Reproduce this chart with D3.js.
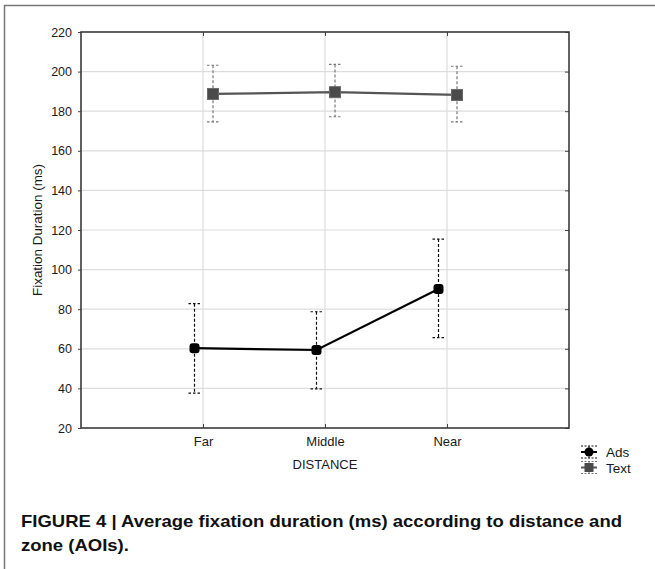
<!DOCTYPE html>
<html>
<head>
<meta charset="utf-8">
<script src="https://cdn.jsdelivr.net/npm/d3@7"></script>
<style>
  html, body { margin: 0; padding: 0; background: #fff; }
  svg { display: block; font-family: "Liberation Sans", Arial, sans-serif; }
</style>
</head>
<body>
<svg id="chart" width="655" height="569"></svg>
<script>
// Fixation duration by distance, per zone
const categories = ["Far", "Middle", "Near"];
const adsMean  = [60.3, 59.4, 90.2];
const adsLow   = [37.6, 39.8, 65.6];
const adsHigh  = [82.8, 78.7, 115.4];
const textMean = [188.7, 189.6, 188.2];
const textLow  = [174.6, 177.2, 174.6];
const textHigh = [203.2, 203.6, 202.7];
const yTicks   = [20, 40, 60, 80, 100, 120, 140, 160, 180, 200, 220];
const seriesNames = ["Ads", "Text"];

const svg = d3.select("#chart");

// figure frame (left and top edges)
svg.append("path")
  .attr("d", "M4.5,569 L4.5,5.5 L655,5.5")
  .attr("fill", "none").attr("stroke", "#777").attr("stroke-width", 1.5);

const plot = { left: 81, right: 569, top: 32, bottom: 428 };

const x = d3.scaleLinear().domain([0, 4]).range([plot.left, plot.right]);
const y = d3.scaleLinear().domain([20, 220]).range([plot.bottom, plot.top]);
const xPos = i => x(i + 1);

// grid
const grid = svg.append("g").attr("stroke", "#dddddd").attr("stroke-width", 1.2);
yTicks.slice(1, -1).forEach(t => {
  grid.append("line").attr("x1", plot.left).attr("x2", plot.right)
    .attr("y1", y(t)).attr("y2", y(t));
});
categories.forEach((c, i) => {
  grid.append("line").attr("x1", xPos(i)).attr("x2", xPos(i))
    .attr("y1", plot.top).attr("y2", plot.bottom);
});

// axes
const yAxis = d3.axisLeft(y).tickValues(yTicks).tickSize(3).tickPadding(6);
const gy = svg.append("g").attr("transform", `translate(${plot.left},0)`).call(yAxis);
gy.select(".domain").remove();
gy.selectAll(".tick line").attr("stroke", "#444");
gy.selectAll(".tick text").attr("font-size", 12.5).attr("fill", "#1a1a1a")
  .attr("font-family", "Liberation Sans, Arial, sans-serif");

const xAxis = d3.axisBottom(x).tickValues([1, 2, 3])
  .tickFormat(d => categories[d - 1]).tickSize(-4).tickPadding(9);
const gx = svg.append("g").attr("transform", `translate(0,${plot.bottom})`).call(xAxis);
gx.select(".domain").remove();
gx.selectAll(".tick line").attr("stroke", "#444");
gx.selectAll(".tick text").attr("font-size", 13).attr("fill", "#1a1a1a")
  .attr("font-family", "Liberation Sans, Arial, sans-serif");

// inward ticks on top and right edges
const xTop = d3.axisTop(x).tickValues([1, 2, 3]).tickSize(-4).tickFormat("");
const gxt = svg.append("g").attr("transform", `translate(0,${plot.top})`).call(xTop);
gxt.select(".domain").remove();
gxt.selectAll(".tick line").attr("stroke", "#444");
const yRight = d3.axisRight(y).tickValues(yTicks).tickSize(-4).tickFormat("");
const gyr = svg.append("g").attr("transform", `translate(${plot.right},0)`).call(yRight);
gyr.select(".domain").remove();
gyr.selectAll(".tick line").attr("stroke", "#444");

// plot frame
svg.append("rect")
  .attr("x", plot.left).attr("y", plot.top)
  .attr("width", plot.right - plot.left).attr("height", plot.bottom - plot.top)
  .attr("fill", "none").attr("stroke", "#3a3a3a").attr("stroke-width", 1.6);

// axis titles
svg.append("text")
  .attr("transform", `translate(42,${(plot.top + plot.bottom) / 2}) rotate(-90)`)
  .attr("text-anchor", "middle").attr("font-size", 13.5).attr("fill", "#1a1a1a")
  .attr("textLength", 132).attr("lengthAdjust", "spacingAndGlyphs")
  .text("Fixation Duration (ms)");
svg.append("text")
  .attr("x", x(2)).attr("y", 469).attr("text-anchor", "middle")
  .attr("font-size", 13).attr("fill", "#1a1a1a").text("DISTANCE");

// series
const series = [
  { name: "Ads", mean: adsMean, low: adsLow, high: adsHigh, color: "#000",
    barColor: "#111", offset: -8.5, marker: "circle" },
  { name: "Text", mean: textMean, low: textLow, high: textHigh, color: "#555",
    barColor: "#777", offset: 10, marker: "square" }
];

function drawMarker(g, cx, cy, s) {
  if (s.marker === "circle") {
    g.append("rect").attr("x", cx - 5).attr("y", cy - 5).attr("width", 10).attr("height", 10)
      .attr("rx", 3).attr("fill", s.color);
  } else {
    g.append("rect").attr("x", cx - 5.5).attr("y", cy - 5.5).attr("width", 11).attr("height", 11)
      .attr("fill", "#4a4a4a").attr("stroke", "#6a6a6a").attr("stroke-width", 1);
  }
}

series.forEach(s => {
  const g = svg.append("g");
  const px = i => xPos(i) + s.offset;
  // error bars
  s.mean.forEach((m, i) => {
    const cx = px(i);
    g.append("line").attr("x1", cx).attr("x2", cx)
      .attr("y1", y(s.high[i])).attr("y2", y(s.low[i]))
      .attr("stroke", s.barColor).attr("stroke-width", 1.2).attr("stroke-dasharray", "3,2");
    [s.high[i], s.low[i]].forEach(v => {
      g.append("line").attr("x1", cx - 6).attr("x2", cx + 6)
        .attr("y1", y(v)).attr("y2", y(v))
        .attr("stroke", s.barColor).attr("stroke-width", 1.2).attr("stroke-dasharray", "2.5,2");
    });
  });
  // mean line
  const line = d3.line().x((d, i) => px(i)).y(d => y(d));
  g.append("path").datum(s.mean).attr("d", line)
    .attr("fill", "none").attr("stroke", s.color).attr("stroke-width", 2.2);
  s.mean.forEach((m, i) => drawMarker(g, px(i), y(m), s));
});

// legend
const legend = svg.append("g");
series.forEach((s, k) => {
  const cy = 452 + k * 15.5;
  const lx = 589;
  const lg = legend.append("g");
  lg.append("line").attr("x1", lx - 8).attr("x2", lx + 8).attr("y1", cy - 6).attr("y2", cy - 6)
    .attr("stroke", s.barColor).attr("stroke-width", 1).attr("stroke-dasharray", "2,1.5");
  lg.append("line").attr("x1", lx - 8).attr("x2", lx + 8).attr("y1", cy + 6).attr("y2", cy + 6)
    .attr("stroke", s.barColor).attr("stroke-width", 1).attr("stroke-dasharray", "2,1.5");
  lg.append("line").attr("x1", lx).attr("x2", lx).attr("y1", cy - 6).attr("y2", cy + 6)
    .attr("stroke", s.barColor).attr("stroke-width", 1).attr("stroke-dasharray", "2,1.5");
  lg.append("line").attr("x1", lx - 8).attr("x2", lx + 8).attr("y1", cy).attr("y2", cy)
    .attr("stroke", s.color).attr("stroke-width", 2);
  if (s.marker === "circle") {
    lg.append("circle").attr("cx", lx).attr("cy", cy).attr("r", 4.5).attr("fill", s.color);
  } else {
    lg.append("rect").attr("x", lx - 4.5).attr("y", cy - 4.5).attr("width", 9).attr("height", 9)
      .attr("fill", "#4a4a4a");
  }
  lg.append("text").attr("x", 606).attr("y", cy + 5).attr("font-size", 13.5)
    .attr("fill", "#1a1a1a").text(s.name);
});

// caption
const cap1 = svg.append("text").attr("x", 21).attr("y", 527)
  .attr("font-size", 17).attr("font-weight", "bold").attr("fill", "#111")
  .text("FIGURE 4 | Average fixation duration (ms) according to distance and");
const cap2 = svg.append("text").attr("x", 21).attr("y", 551)
  .attr("font-size", 17).attr("font-weight", "bold").attr("fill", "#111")
  .text("zone (AOIs).");
const w1 = cap1.node().getComputedTextLength();
const k = 601 / w1;
cap1.attr("textLength", 601).attr("lengthAdjust", "spacingAndGlyphs");
cap2.attr("textLength", cap2.node().getComputedTextLength() * k).attr("lengthAdjust", "spacingAndGlyphs");
</script>
</body>
</html>
